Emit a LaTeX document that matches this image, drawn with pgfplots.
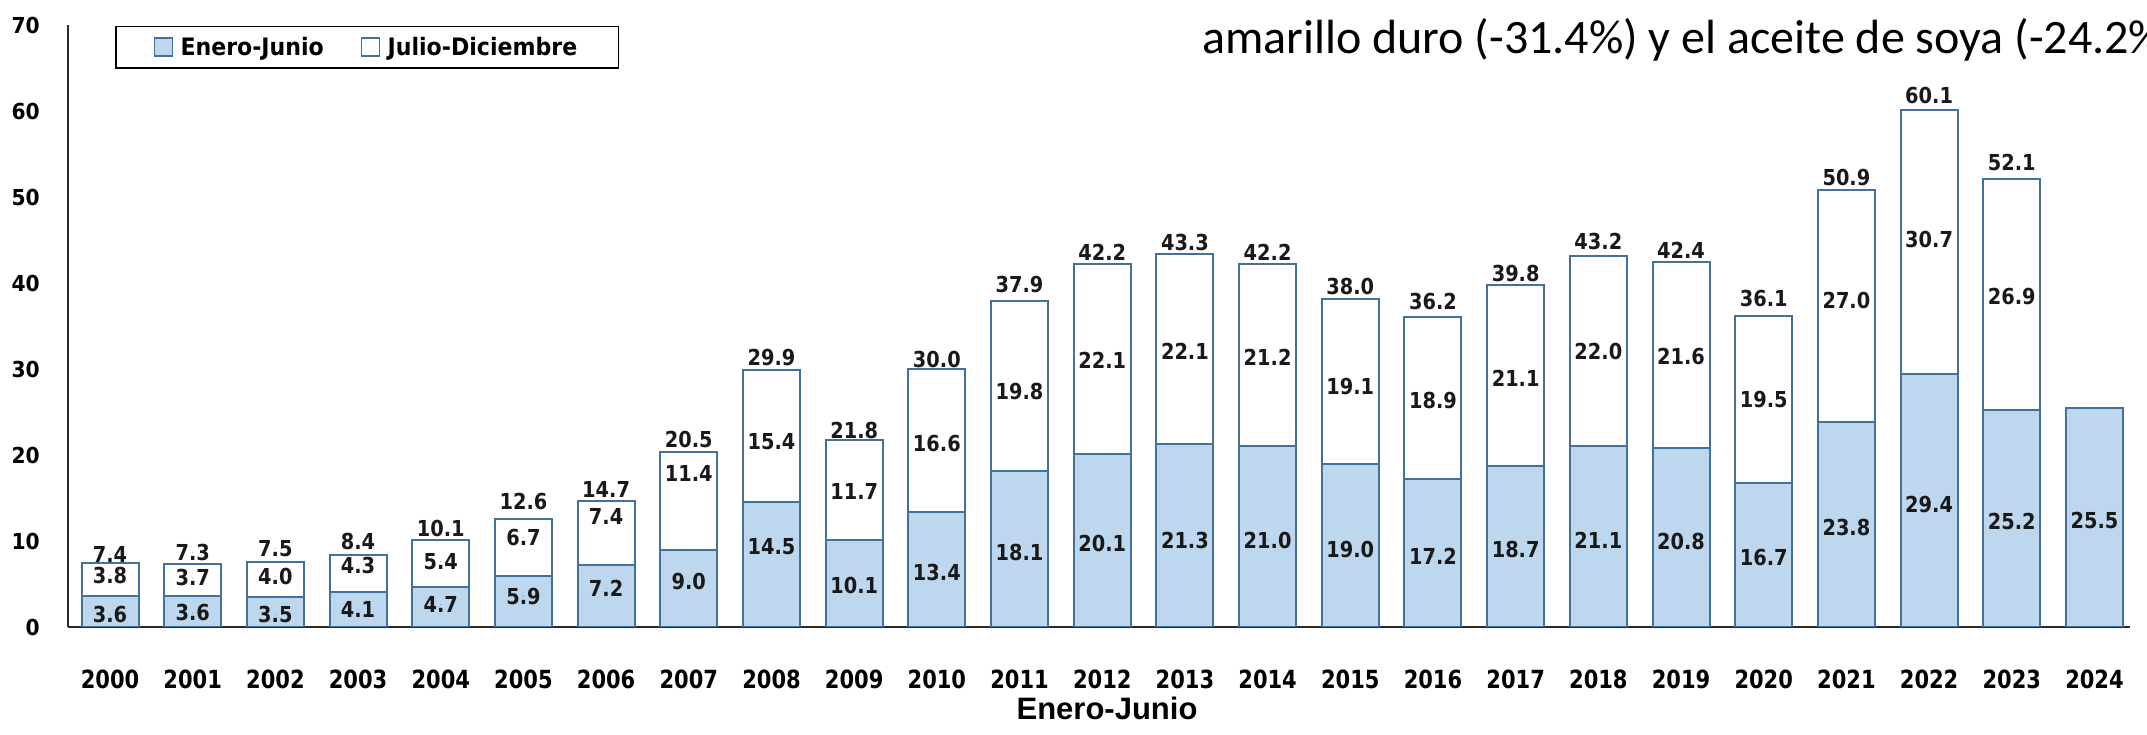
\documentclass[border=0pt]{standalone}
\usepackage{pgfplots}
\usepackage{pgfplotstable}
\pgfplotsset{compat=1.18}
\usepackage{fontspec}
\setmainfont{DejaVu Sans}
\newfontfamily\dvb{DejaVu Sans}[FakeStretch=0.88]
\newfontfamily\dvy{DejaVu Sans}[FakeStretch=0.84]
\newfontfamily\dvt{DejaVu Sans}[FakeStretch=0.92]
\newfontfamily\dvleg{DejaVu Sans}[FakeStretch=0.92]
\newfontfamily\arb{Liberation Sans}
\newfontfamily\calib{Carlito}
\definecolor{barfill}{HTML}{BDD7EE}
\definecolor{barline}{HTML}{41719C}
\definecolor{axline}{HTML}{2A2A2A}
\newcommand\lblf{\dvb\bfseries\fontsize{22bp}{22bp}\selectfont}

\pgfplotstableread{
x ej
0 3.6
1 3.6
2 3.5
3 4.1
4 4.7
5 5.9
6 7.2
7 9.0
8 14.5
9 10.1
10 13.4
11 18.1
12 20.1
13 21.3
14 21.0
15 19.0
16 17.2
17 18.7
18 21.1
19 20.8
20 16.7
21 23.8
22 29.4
23 25.2
24 25.5
}\ejtab

\pgfplotstableread{
x jd
0 3.8
1 3.7
2 4.0
3 4.3
4 5.4
5 6.7
6 7.4
7 11.4
8 15.4
9 11.7
10 16.6
11 19.8
12 22.1
13 22.1
14 21.2
15 19.1
16 18.9
17 21.1
18 22.0
19 21.6
20 19.5
21 27.0
22 30.7
23 26.9
}\jdtab

% label positions (x, y of label centre, text)
\pgfplotstableread{
x y lab
0 1.5 3.6
1 1.65 3.6
2 1.45 3.5
3 2.0 4.1
4 2.6 4.7
5 3.6 5.9
6 4.5 7.2
7 5.3 9.0
8 9.3 14.5
9 4.8 10.1
10 6.3 13.4
11 8.7 18.1
12 9.7 20.1
13 10.1 21.3
14 10.1 21.0
15 9.0 19.0
16 8.2 17.2
17 9.0 18.7
18 10.1 21.1
19 9.9 20.8
20 8.1 16.7
21 11.6 23.8
22 14.3 29.4
23 12.3 25.2
24 12.4 25.5
}\lejtab

\pgfplotstableread{
x y lab
0 6.0 3.8
1 5.7 3.7
2 5.9 4.0
3 7.1 4.3
4 7.6 5.4
5 10.4 6.7
6 12.9 7.4
7 17.9 11.4
8 21.5 15.4
9 15.7 11.7
10 21.3 16.6
11 27.4 19.8
12 31.0 22.1
13 32.1 22.1
14 31.3 21.2
15 28.0 19.1
16 26.3 18.9
17 28.9 21.1
18 32.0 22.0
19 31.4 21.6
20 26.4 19.5
21 38.0 27.0
22 45.1 30.7
23 38.4 26.9
}\ljdtab

\pgfplotstableread{
x y lab
0 8.4 7.4
1 8.7 7.3
2 9.1 7.5
3 9.9 8.4
4 11.5 10.1
5 14.6 12.6
6 16.0 14.7
7 21.8 20.5
8 31.3 29.9
9 22.8 21.8
10 31.1 30.0
11 39.8 37.9
12 43.6 42.2
13 44.7 43.3
14 43.6 42.2
15 39.6 38.0
16 37.8 36.2
17 41.1 39.8
18 44.8 43.2
19 43.8 42.4
20 38.2 36.1
21 52.3 50.9
22 61.8 60.1
23 54.0 52.1
}\ltottab

\pgfplotsset{commonax/.style={
  scale only axis, width=2062bp, height=602bp,
  at={(68bp,108bp)}, anchor=south west,
  xmin=-0.508, xmax=24.43, ymin=0, ymax=70,
}}

\begin{document}
\begin{tikzpicture}
\begin{axis}[commonax, ybar stacked, bar width=57bp,
  axis x line*=bottom, axis y line*=left,
  axis line style={axline, line width=2.2bp},
  xtick={0,...,24},
  xticklabels={2000,2001,2002,2003,2004,2005,2006,2007,2008,2009,2010,2011,2012,2013,2014,2015,2016,2017,2018,2019,2020,2021,2022,2023,2024},
  ytick={0,10,20,30,40,50,60,70},
  major tick length=0pt,
  /pgf/number format/assume math mode=true,
  xticklabel style={font=\dvy\bfseries\fontsize{25bp}{25bp}\selectfont, anchor=center, inner sep=0pt, yshift=-52bp, text=black},
  yticklabel style={font=\dvt\bfseries\fontsize{22bp}{22bp}\selectfont, anchor=east, inner sep=0pt, xshift=-28bp, text=black},
  legend columns=2,
  legend style={at={(0.0228,0.999)}, anchor=north west, draw=black, line width=1.5bp, fill=white,
    font=\dvleg\bfseries\fontsize{24bp}{24bp}\selectfont, inner xsep=38bp, inner ysep=8bp,
    /tikz/every even column/.append style={column sep=34bp},
    nodes={inner sep=3bp}},
  legend image code/.code={\draw[#1, line width=1.5bp] (0bp,-9bp) rectangle (18bp,9bp); \path (22bp,0bp);},
]
\addplot[fill=barfill, draw=barline, line width=2bp] table[x=x,y=ej]{\ejtab};
\addplot[fill=white, draw=barline, line width=2bp] table[x=x,y=jd]{\jdtab};
\legend{Enero-Junio, Julio-Diciembre}
\end{axis}
\begin{axis}[commonax, hide axis, clip=false,
  nodes near coords, point meta=explicit symbolic,
  every node near coord/.append style={anchor=center, font=\lblf, text=black!90, inner sep=0pt}]
\addplot[only marks, mark=*, mark size=0.01bp, mark options={draw=none, fill=none}] table[x=x,y=y,meta=lab]{\lejtab};
\addplot[only marks, mark=*, mark size=0.01bp, mark options={draw=none, fill=none}] table[x=x,y=y,meta=lab]{\ljdtab};
\addplot[only marks, mark=*, mark size=0.01bp, mark options={draw=none, fill=none}] table[x=x,y=y,meta=lab]{\ltottab};
\end{axis}
\node[font=\arb\bfseries\fontsize{31bp}{31bp}\selectfont, inner sep=0pt] at (1107bp,27bp) {Enero-Junio};
\node[anchor=base west, font=\calib\fontsize{48bp}{48bp}\selectfont, inner sep=0pt] at (1202bp,681bp) {amarillo duro (-31.4\%) y el aceite de soya (-24.2\%)};
\pgfresetboundingbox
\useasboundingbox (0bp,0bp) rectangle (2147bp,735bp);
\end{tikzpicture}
\end{document}
